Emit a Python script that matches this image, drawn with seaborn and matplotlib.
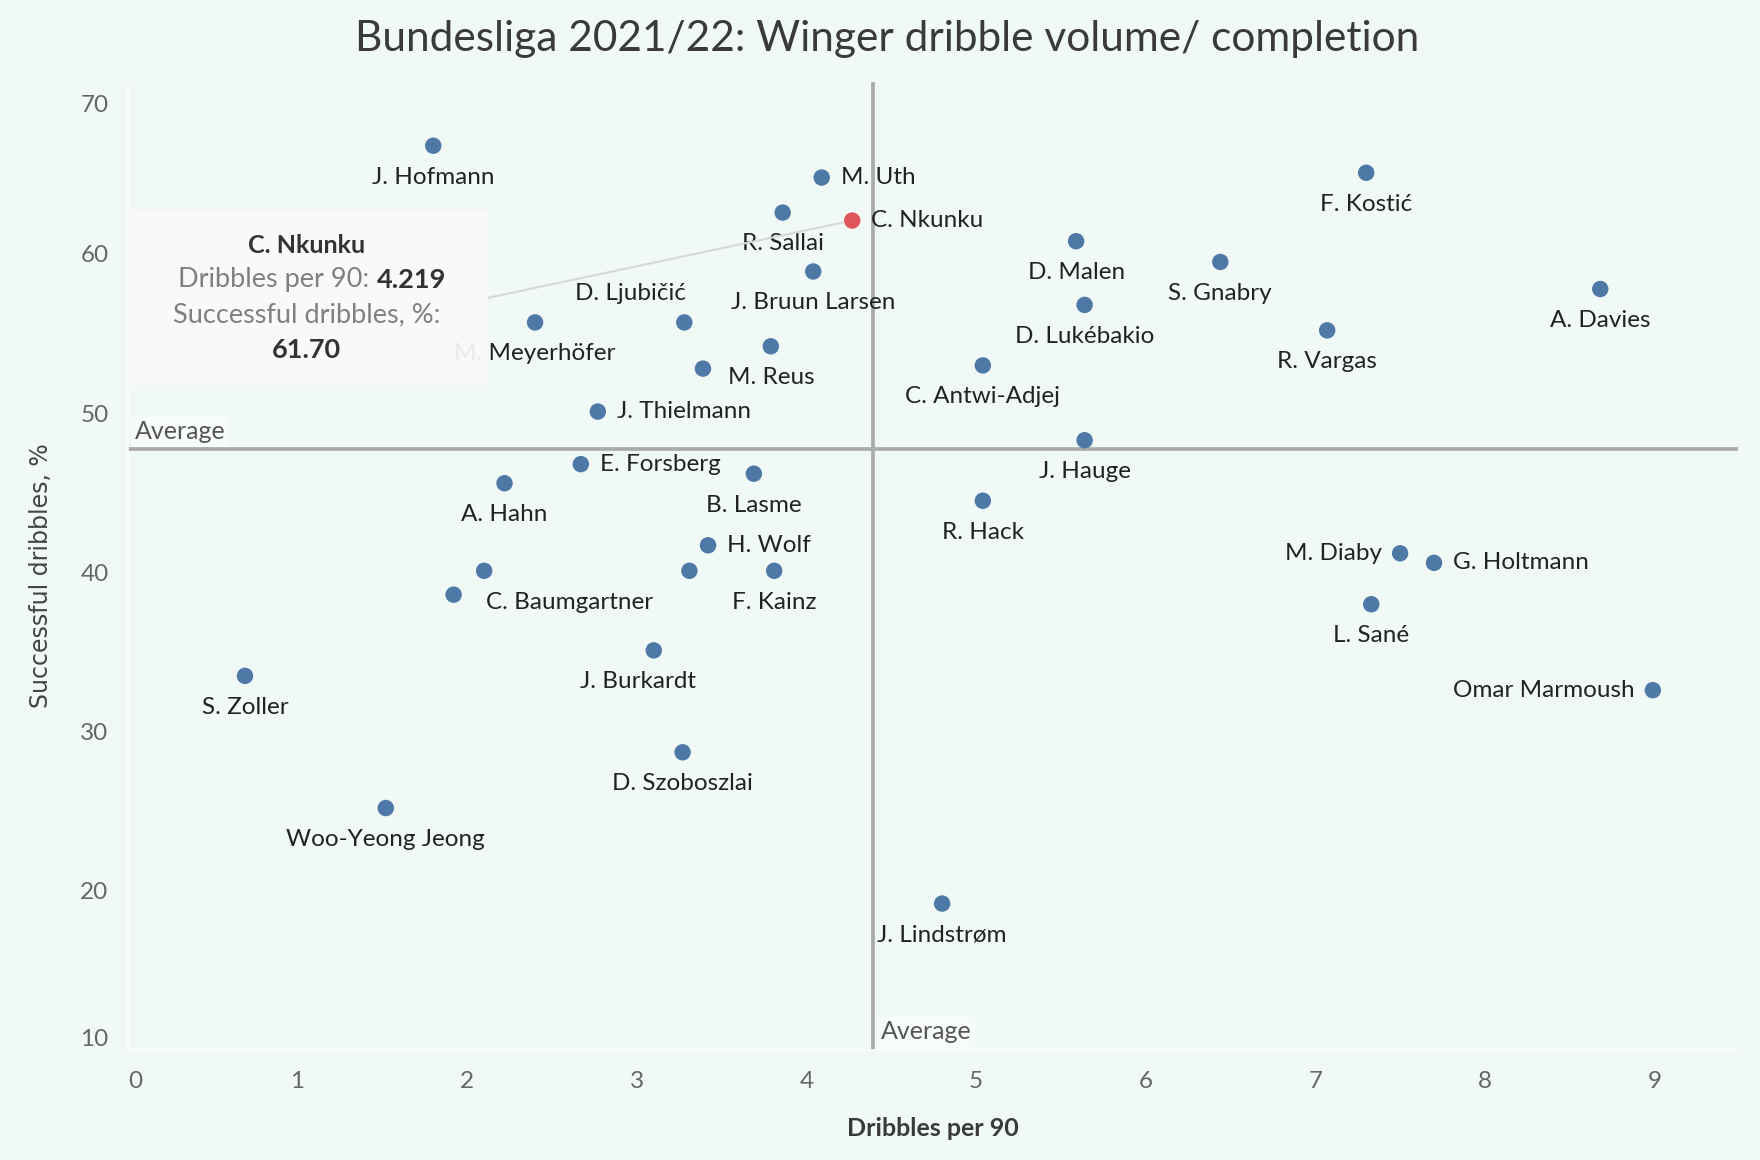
import numpy as np
import pandas as pd
import matplotlib
matplotlib.use("Agg")
import matplotlib.pyplot as plt
import seaborn as sns
from matplotlib.patches import Rectangle

# values ("" = dot whose label is hidden)
players = [
    "J. Hofmann", "M. Uth", "R. Sallai", "C. Nkunku", "J. Bruun Larsen",
    "D. Ljubičić", "M. Meyerhöfer", "M. Reus", "", "J. Thielmann",
    "E. Forsberg", "A. Hahn", "B. Lasme", "H. Wolf", "C. Baumgartner",
    "", "", "F. Kainz", "J. Burkardt", "D. Szoboszlai",
    "S. Zoller", "Woo-Yeong Jeong", "J. Lindstrøm", "J. Hauge", "R. Hack",
    "C. Antwi-Adjej", "D. Lukébakio", "D. Malen", "S. Gnabry", "F. Kostić",
    "A. Davies", "R. Vargas", "M. Diaby", "G. Holtmann", "L. Sané",
    "Omar Marmoush",
]
dribbles_p90 = [
    1.80, 4.09, 3.86, 4.27, 4.04,
    3.28, 2.40, 3.79, 3.39, 2.77,
    2.67, 2.22, 3.69, 3.42, 1.92,
    2.10, 3.31, 3.81, 3.10, 3.27,
    0.69, 1.52, 4.80, 5.64, 5.04,
    5.04, 5.64, 5.59, 6.44, 7.30,
    8.68, 7.07, 7.50, 7.70, 7.33,
    8.99,
]
success_pct = [
    66.8, 64.8, 62.6, 62.1, 58.9,
    55.7, 55.7, 54.2, 52.8, 50.1,
    46.8, 45.6, 46.2, 41.7, 38.6,
    40.1, 40.1, 40.1, 35.1, 28.7,
    33.5, 25.2, 19.2, 48.3, 44.5,
    53.0, 56.8, 60.8, 59.5, 65.1,
    57.8, 55.2, 41.2, 40.6, 38.0,
    32.6,
]
highlight = "C. Nkunku"
tooltip_values = ["4.219", "61.70"]  # as printed in the tooltip
title = "Bundesliga 2021/22: Winger dribble volume/ completion"
x_label = "Dribbles per 90"
y_label = "Successful dribbles, %"
x_ticks = list(range(0, 10))
y_ticks = list(range(10, 80, 10))

df = pd.DataFrame({"player": players, "dribbles": dribbles_p90, "success": success_pct})
df["group"] = np.where(df["player"] == highlight, "sel", "rest")

sns.set_theme(style="white")
plt.rcParams["font.family"] = ["Lato", "DejaVu Sans"]

BG = "#f1f9f7"
fig = plt.figure(figsize=(17.6, 11.6), dpi=100, facecolor=BG)
ax = fig.add_axes([0.0727, 0.0948, 0.9146, 0.8345])
ax.set_facecolor(BG)

# average reference lines
avg_x = df["dribbles"].mean()
avg_y = df["success"].mean()
ax.axvline(avg_x, color="#ababab", lw=2.7, zorder=1)
ax.axhline(avg_y, color="#ababab", lw=2.7, zorder=1)

sns.scatterplot(data=df, x="dribbles", y="success", hue="group",
                palette={"rest": "#4e79a7", "sel": "#e15759"},
                s=140, linewidth=0, legend=False, ax=ax, zorder=3)

# label placement (offset points dx, dy, ha)
BELOW = (0, -22.6, "center")
RIGHT = (13.7, 0, "left")
LEFT = (-13, 0, "right")
label_pos = {
    "M. Uth": RIGHT, "C. Nkunku": RIGHT, "J. Thielmann": RIGHT,
    "E. Forsberg": RIGHT, "H. Wolf": RIGHT, "G. Holtmann": RIGHT,
    "M. Diaby": LEFT, "Omar Marmoush": LEFT,
    "D. Ljubičić": (-38.8, 21, "center"),
    "C. Baumgartner": (23.4, -5.7, "left"),
    "J. Burkardt": (-11, -22.6, "center"),
}
for row in df.itertuples():
    if not row.player:
        continue
    dx, dy, ha = label_pos.get(row.player, BELOW)
    ax.annotate(row.player, (row.dribbles, row.success), xytext=(dx, dy),
                textcoords="offset points", ha=ha, va="center",
                fontsize=17.5, color="#222222", zorder=4)

# "Average" tags
ax.annotate("Average", xy=(0, avg_y), xycoords=("axes fraction", "data"),
            xytext=(5, 13), textcoords="offset points", ha="left", va="center",
            fontsize=18, color="#555555", zorder=2,
            bbox=dict(boxstyle="square,pad=0.15", fc="#f7fbfa", ec="none"))
ax.annotate("Average", xy=(avg_x, 0), xycoords=("data", "axes fraction"),
            xytext=(5.4, 13), textcoords="offset points", ha="left", va="center",
            fontsize=18, color="#555555", zorder=2,
            bbox=dict(boxstyle="square,pad=0.15", fc="#f7fbfa", ec="none"))

# tooltip for the highlighted player
nk = df[df["player"] == highlight].iloc[0]
ax.add_patch(Rectangle((0, 0.687), 0.2236, 0.181, transform=ax.transAxes,
                       fc="#fafafa", ec="none", alpha=0.93, zorder=10, clip_on=False))
ax.annotate("", xy=(nk["dribbles"], nk["success"]), xytext=(0.2236, 0.777),
            textcoords="axes fraction", zorder=9,
            arrowprops=dict(arrowstyle="-", color="#d8d8d8", lw=1.5, shrinkA=0, shrinkB=7))
ax.text(0.111, 0.8316, highlight, transform=ax.transAxes, ha="center", va="center",
        fontsize=18, fontweight="bold", color="#333333", zorder=11)
ax.text(0.1545, 0.7955, "Dribbles per 90: ", transform=ax.transAxes, ha="right", va="center",
        fontsize=19.5, color="#808080", zorder=11)
ax.text(0.1545, 0.7955, tooltip_values[0], transform=ax.transAxes, ha="left", va="center",
        fontsize=19.5, fontweight="bold", color="#333333", zorder=11)
ax.text(0.111, 0.7593, y_label + ":", transform=ax.transAxes, ha="center", va="center",
        fontsize=19.5, color="#808080", zorder=11)
ax.text(0.111, 0.7231, tooltip_values[1], transform=ax.transAxes, ha="center", va="center",
        fontsize=19.5, fontweight="bold", color="#333333", zorder=11)

# axes cosmetics
ax.set_xlim(0, 9.49)
ax.set_ylim(10, 70.8)
ax.set_xticks(x_ticks)
ax.set_yticks(y_ticks)
ax.tick_params(axis="both", which="major", labelsize=17.5, labelcolor="#666666",
               color="#e2ebe9", length=5, width=1, direction="out")
ax.tick_params(axis="x", pad=10)
ax.tick_params(axis="y", pad=9)
ax.get_xticklabels()[0].set_horizontalalignment("left")
ax.get_yticklabels()[0].set_verticalalignment("bottom")
ax.get_yticklabels()[-1].set_verticalalignment("top")
for side in ["top", "right"]:
    ax.spines[side].set_visible(False)
for side in ["left", "bottom"]:
    ax.spines[side].set_color("#fafdfc")
    ax.spines[side].set_linewidth(1.2)

ax.set_xlabel(x_label, fontsize=18, fontweight="bold", color="#3a3a3a", va="center")
ax.xaxis.set_label_coords(0.5, -0.0806)
ax.set_ylabel(y_label, fontsize=17, color="#444444", va="center", family="DejaVu Sans")
ax.yaxis.set_label_coords(-0.054, 0.49)

fig.text(0.504, 0.9664, title, ha="center", va="center", fontsize=30.5,
         fontweight="normal", color="#3a3a3a")

fig.savefig("out.png", dpi=100, facecolor=BG)
